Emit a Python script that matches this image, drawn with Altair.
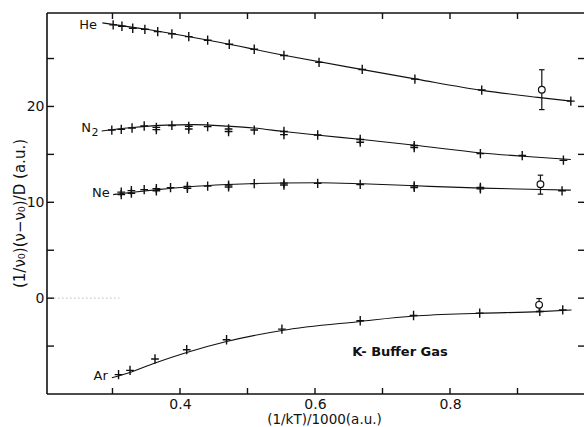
import altair as alt
import pandas as pd

# Measured shifts (crosses) for each buffer gas
he_x = [0.301, 0.314, 0.330, 0.348, 0.367, 0.388, 0.413, 0.441, 0.473, 0.510, 0.554, 0.606, 0.670, 0.748, 0.847, 0.979]
he_y = [28.51, 28.37, 28.16, 28.05, 27.81, 27.58, 27.29, 26.91, 26.49, 25.97, 25.32, 24.60, 23.86, 22.85, 21.71, 20.56]

n2_x = [0.299, 0.313, 0.329, 0.347, 0.365, 0.388, 0.413, 0.441, 0.472, 0.510, 0.554, 0.604, 0.667, 0.747, 0.845, 0.907, 0.968]
n2_y = [17.54, 17.61, 17.75, 17.96, 17.82, 18.02, 17.93, 17.90, 17.65, 17.54, 17.39, 17.02, 16.55, 15.92, 15.08, 14.88, 14.39]
n2_x2 = [0.365, 0.413, 0.472, 0.554, 0.667, 0.747]
n2_y2 = [17.58, 17.65, 17.38, 17.06, 16.27, 15.71]

ne_x = [0.313, 0.328, 0.347, 0.365, 0.386, 0.411, 0.441, 0.472, 0.510, 0.554, 0.604, 0.667, 0.747, 0.845, 0.966]
ne_y = [11.06, 11.22, 11.32, 11.43, 11.53, 11.65, 11.69, 11.79, 11.95, 12.00, 11.97, 11.86, 11.72, 11.55, 11.20]
ne_x2 = [0.313, 0.328, 0.365, 0.411, 0.472, 0.554, 0.747, 0.845]
ne_y2 = [10.80, 10.95, 11.20, 11.45, 11.60, 11.80, 11.55, 11.40]

ar_x = [0.309, 0.326, 0.363, 0.410, 0.469, 0.551, 0.667, 0.746, 0.844, 0.933, 0.967]
ar_y = [-7.98, -7.53, -6.35, -5.38, -4.34, -3.23, -2.36, -1.81, -1.56, -1.39, -1.22]

# Fitted curves through each data set
he_fit_x = [0.285, 0.350, 0.450, 0.550, 0.650, 0.750, 0.850, 0.930, 0.980]
he_fit_y = [28.72, 28.05, 26.80, 25.40, 24.10, 22.85, 21.65, 20.95, 20.55]
n2_fit_x = [0.284, 0.330, 0.380, 0.420, 0.470, 0.510, 0.554, 0.606, 0.670, 0.748, 0.847, 0.908, 0.979]
n2_fit_y = [17.44, 17.80, 18.05, 18.10, 17.95, 17.75, 17.38, 16.99, 16.55, 15.95, 15.15, 14.80, 14.46]
ne_fit_x = [0.301, 0.330, 0.370, 0.410, 0.470, 0.550, 0.606, 0.670, 0.748, 0.847, 0.936, 0.979]
ne_fit_y = [10.80, 11.05, 11.35, 11.60, 11.85, 12.02, 12.04, 11.93, 11.72, 11.48, 11.34, 11.27]
ar_fit_x = [0.299, 0.326, 0.363, 0.410, 0.469, 0.551, 0.667, 0.746, 0.844, 0.933, 0.980]
ar_fit_y = [-8.30, -7.75, -6.76, -5.66, -4.52, -3.37, -2.43, -1.87, -1.58, -1.41, -1.23]

# Reference points (open circles) with their error bars
ref_x = [0.936, 0.934, 0.932]
ref_y = [21.75, 11.89, -0.70]
ref_lo = [19.67, 10.85, -1.39]
ref_hi = [23.83, 12.83, -0.04]

# Curve labels (the N2 subscript is set as its own smaller, lowered text)
label_text = ["He", "N", "Ne", "Ar"]
label_x = [0.277, 0.268, 0.296, 0.293]
label_y = [28.5, 17.7, 11.0, -8.15]
sub_text = ["2"]
sub_x = [0.269]
sub_y = [17.25]

x_ticks = [0.3, 0.4, 0.5, 0.6, 0.7, 0.8, 0.9]
x_labels = [0.4, 0.6, 0.8]
y_ticks = [-5, 0, 5, 10, 15, 20, 25]
y_labels = [0, 10, 20]

X_DOMAIN = [0.203, 0.9985]
Y_DOMAIN = [-10, 29.75]
W, H = 537, 381
FONT = "DejaVu Sans"
INK = "#111111"

xs = alt.Scale(domain=X_DOMAIN, nice=False, zero=False)
ys = alt.Scale(domain=Y_DOMAIN, nice=False, zero=False)

# Axes carry labels and titles only; frame and inward ticks are drawn as rules
x_axis = alt.Axis(
    values=x_labels, format=".1f", ticks=False, domain=False, grid=False,
    labelFont=FONT, labelFontSize=14, labelColor=INK, labelPadding=3,
    title="(1/kT)/1000(a.u.)", titleFont=FONT, titleFontSize=13.5,
    titleFontWeight="normal", titleColor=INK, titleX=277, titleY=25.5,
    titleAlign="center", titleBaseline="middle")
y_axis = alt.Axis(
    values=y_labels, format="d", ticks=False, domain=False, grid=False,
    labelFont=FONT, labelFontSize=14, labelColor=INK, labelPadding=3,
    title="(1/ν₀)(ν−ν₀)/D (a.u.)", titleFont=FONT, titleFontSize=15,
    titleFontWeight="normal", titleColor=INK, titleX=-28, titleY=200,
    titleAlign="center", titleBaseline="middle", titleAngle=270)

X = alt.X("x:Q", scale=xs, axis=x_axis)
Y = alt.Y("y:Q", scale=ys, axis=y_axis)

pts = pd.DataFrame({
    "x": he_x + n2_x + n2_x2 + ne_x + ne_x2 + ar_x,
    "y": he_y + n2_y + n2_y2 + ne_y + ne_y2 + ar_y,
})

fits = pd.concat([
    pd.DataFrame({"gas": g, "x": fx, "y": fy})
    for g, fx, fy in [("He", he_fit_x, he_fit_y), ("N2", n2_fit_x, n2_fit_y),
                      ("Ne", ne_fit_x, ne_fit_y), ("Ar", ar_fit_x, ar_fit_y)]
])

refs = pd.DataFrame({"x": ref_x, "y": ref_y, "lo": ref_lo, "hi": ref_hi})
caps = pd.DataFrame({"x": ref_x + ref_x, "y": ref_lo + ref_hi})
labels = pd.DataFrame({"t": label_text, "x": label_x, "y": label_y})
subs = pd.DataFrame({"t": sub_text, "x": sub_x, "y": sub_y})

frame_style = dict(color=INK, strokeWidth=1.6)
one = pd.DataFrame({"k": [0]})
top = alt.Chart(one).mark_rule(**frame_style).encode(
    x=alt.value(0), x2=alt.value(W), y=alt.value(0))
bottom = alt.Chart(one).mark_rule(**frame_style).encode(
    x=alt.value(0), x2=alt.value(W), y=alt.value(H))
left = alt.Chart(one).mark_rule(**frame_style).encode(
    x=alt.value(0), y=alt.value(0), y2=alt.value(H))

xt = pd.DataFrame({"x": x_ticks})
yt = pd.DataFrame({"y": y_ticks})
tick_style = dict(color=INK, strokeWidth=1.4)
ticks_bottom = alt.Chart(xt).mark_rule(**tick_style).encode(x=X, y=alt.value(H), y2=alt.value(H - 6))
ticks_top = alt.Chart(xt).mark_rule(**tick_style).encode(x=X, y=alt.value(0), y2=alt.value(6))
ticks_left = alt.Chart(yt).mark_rule(**tick_style).encode(y=Y, x=alt.value(0), x2=alt.value(7))
ticks_right = alt.Chart(yt).mark_rule(**tick_style).encode(y=Y, x=alt.value(W), x2=alt.value(W - 6))

zero_dots = alt.Chart(pd.DataFrame({"x": [0.208], "x2": [0.31], "y": [0.0]})).mark_rule(
    color="#9a9a9a", strokeWidth=1, strokeDash=[1, 3]).encode(x=X, x2="x2:Q", y=Y)

curves = alt.Chart(fits).mark_line(color=INK, strokeWidth=1.1, interpolate="monotone").encode(
    x=X, y=Y, detail="gas:N")

crosses = alt.Chart(pts).mark_point(
    shape="M-1,0L1,0M0,-1.2L0,1.2", filled=False, stroke=INK, strokeWidth=1.4,
    size=60, opacity=1).encode(x=X, y=Y)

bars_hi = alt.Chart(refs).mark_rule(color=INK, strokeWidth=1.2).encode(x=X, y=Y, y2="hi:Q")
bars_lo = alt.Chart(refs).mark_rule(color=INK, strokeWidth=1.2).encode(x=X, y=Y, y2="lo:Q")
cap_marks = alt.Chart(caps).mark_point(
    shape="M-1,0L1,0", filled=False, stroke=INK, strokeWidth=1.2, size=30, opacity=1).encode(x=X, y=Y)
circles = alt.Chart(refs).mark_point(
    shape="circle", filled=True, fill="white", stroke=INK, strokeWidth=1.2, size=45, opacity=1).encode(x=X, y=Y)

gas_labels = alt.Chart(labels).mark_text(
    font=FONT, fontSize=13, color=INK, align="right", baseline="middle").encode(
    x=X, y=Y, text="t:N")
sub_labels = alt.Chart(subs).mark_text(
    font=FONT, fontSize=11, color=INK, align="left", baseline="middle").encode(
    x=X, y=Y, text="t:N")

caption = alt.Chart(pd.DataFrame({"t": ["K- Buffer Gas"], "x": [0.726], "y": [-5.6]})).mark_text(
    font=FONT, fontSize=13, fontWeight="bold", color=INK, align="center", baseline="middle").encode(
    x=X, y=Y, text="t:N")

chart = alt.layer(
    zero_dots, curves, crosses, bars_hi, bars_lo, cap_marks, circles,
    top, bottom, left, ticks_bottom, ticks_top, ticks_left, ticks_right,
    gas_labels, sub_labels, caption,
).properties(
    width=W, height=H,
    autosize=alt.AutoSizeParams(type="none"),
    padding={"left": 47, "top": 13, "right": 0, "bottom": 33},
    background="white",
).configure_view(stroke=None)

chart.save("out.html", embed_options={"renderer": "svg", "actions": False})
